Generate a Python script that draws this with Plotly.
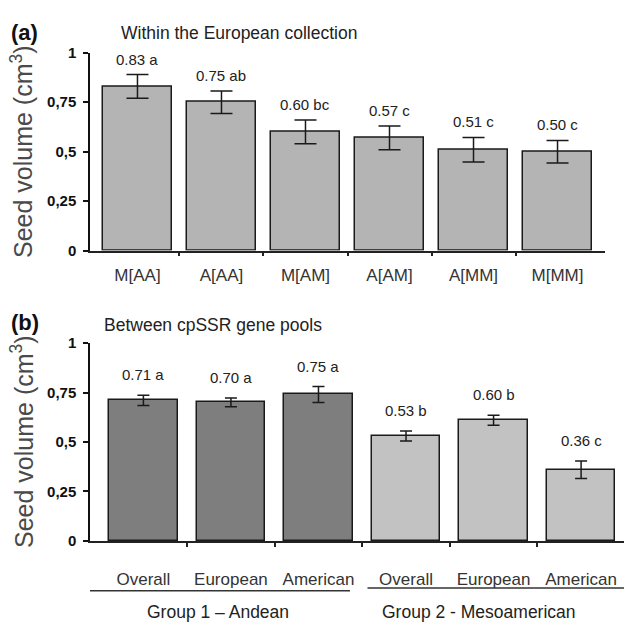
import plotly.graph_objects as go

# ---- data: panel (a) ----
a_cats = ["M[AA]", "A[AA]", "M[AM]", "A[AM]", "A[MM]", "M[MM]"]
a_vals = [0.83, 0.75, 0.60, 0.57, 0.51, 0.50]
a_err = [0.06, 0.057, 0.06, 0.06, 0.062, 0.057]
a_lbls = ["0.83 a", "0.75 ab", "0.60 bc", "0.57 c", "0.51 c", "0.50 c"]

# ---- data: panel (b) ----
b_cats = ["Overall", "European", "American", "Overall", "European", "American"]
b_groups = ["Andean", "Andean", "Andean", "Mesoamerican", "Mesoamerican", "Mesoamerican"]
b_vals = [0.71, 0.70, 0.74, 0.53, 0.61, 0.36]
b_err = [0.026, 0.022, 0.04, 0.025, 0.025, 0.044]
b_lbls = ["0.71 a", "0.70 a", "0.75 a", "0.53 b", "0.60 b", "0.36 c"]
group_titles = {"Andean": "Group 1 \u2013 Andean", "Mesoamerican": "Group 2 - Mesoamerican"}

yticks = [0, 0.25, 0.5, 0.75, 1]
yticktext = ["0", "0,25", "0,5", "0,75", "1"]

W, H = 624, 629
FONT = "Liberation Sans, Arial, sans-serif"
group_colors = {"Andean": "#7e7e7e", "Mesoamerican": "#c2c2c2"}

xa = list(range(len(a_cats)))
xb = list(range(len(b_cats)))

fig = go.Figure()
fig.add_trace(go.Bar(
    x=xa, y=a_vals, width=0.82, xaxis="x", yaxis="y",
    marker=dict(color="#b4b4b4", line=dict(color="#1a1a1a", width=1.5)),
    error_y=dict(type="data", array=a_err, color="#1a1a1a", thickness=1.5, width=11),
    showlegend=False, hoverinfo="skip"))
fig.add_trace(go.Bar(
    x=xb, y=b_vals, width=0.78, xaxis="x2", yaxis="y2",
    marker=dict(color=[group_colors[g] for g in b_groups], line=dict(color="#1a1a1a", width=1.5)),
    error_y=dict(type="data", array=b_err, color="#1a1a1a", thickness=1.5, width=6),
    showlegend=False, hoverinfo="skip"))

ann = []
for i, (v, e, t) in enumerate(zip(a_vals, a_err, a_lbls)):
    ann.append(dict(x=i, y=v + e, xref="x", yref="y", text=t, showarrow=False,
                    yanchor="bottom", yshift=5, font=dict(size=15, color="#222", family=FONT)))
for i, (v, e, t) in enumerate(zip(b_vals, b_err, b_lbls)):
    ann.append(dict(x=i, y=v + e, xref="x2", yref="y2", text=t, showarrow=False,
                    yanchor="bottom", yshift=10, font=dict(size=15, color="#222", family=FONT)))

ann += [
    dict(x=9 / W, y=1 - 24 / H, xref="paper", yref="paper", text="<b>(a)</b>", showarrow=False,
         xanchor="left", yanchor="middle", font=dict(size=22, color="#111", family=FONT)),
    dict(x=119 / W, y=1 - 25 / H, xref="paper", yref="paper", text="Within the European collection",
         showarrow=False, xanchor="left", yanchor="middle", font=dict(size=17.5, color="#222", family=FONT)),
    dict(x=9 / W, y=1 - 322 / H, xref="paper", yref="paper", text="<b>(b)</b>", showarrow=False,
         xanchor="left", yanchor="middle", font=dict(size=22, color="#111", family=FONT)),
    dict(x=102 / W, y=1 - 325 / H, xref="paper", yref="paper", text="Between cpSSR gene pools",
         showarrow=False, xanchor="left", yanchor="middle", font=dict(size=17.5, color="#222", family=FONT)),
]
for yc in [1 - 147 / H, 1 - 445 / H]:
    ann.append(dict(x=22 / W, y=yc, xref="paper", yref="paper", text="Seed volume (cm<sup>3</sup>)",
                    textangle=-90, showarrow=False, xanchor="center", yanchor="middle",
                    font=dict(size=25, color="#4a4a4a", family=FONT)))

ann.append(dict(x=0.85, y=1 - 620 / H, xref="x2", yref="paper", text=group_titles["Andean"],
                showarrow=False, yanchor="middle", font=dict(size=17.5, color="#222", family=FONT)))
ann.append(dict(x=3.83, y=1 - 620 / H, xref="x2", yref="paper", text=group_titles["Mesoamerican"],
                showarrow=False, yanchor="middle", font=dict(size=17.5, color="#222", family=FONT)))
shapes = [
    dict(type="line", xref="x2", yref="paper", x0=-0.61, x1=2.36, y0=1 - 598 / H, y1=1 - 598 / H,
         line=dict(color="#333", width=1.5)),
    dict(type="line", xref="x2", yref="paper", x0=2.56, x1=5.49, y0=1 - 595 / H, y1=1 - 595 / H,
         line=dict(color="#333", width=1.5)),
]

yax = dict(range=[0, 1], tickvals=yticks, ticktext=yticktext, ticks="outside", ticklen=5,
           tickcolor="#111", tickwidth=1.5, showline=True, linecolor="#111", linewidth=1.5,
           showgrid=False, zeroline=False, fixedrange=True, ticklabelstandoff=4,
           tickfont=dict(size=15, color="#111", family=FONT, weight="bold"))

def xax(cats, rng, standoff):
    n = len(cats)
    return dict(range=rng, tickvals=list(range(n)), ticktext=cats, ticks="",
                showline=True, linecolor="#222", linewidth=1.5, showgrid=False, zeroline=False,
                ticklabelstandoff=standoff, fixedrange=True,
                minor=dict(tickvals=[i - 0.5 for i in range(1, n)], ticks="outside", ticklen=4,
                           tickcolor="#222", tickwidth=1.5, showgrid=False),
                tickfont=dict(size=17, color="#333", family=FONT))

fig.update_layout(
    width=W, height=H, margin=dict(l=0, r=0, t=0, b=0),
    paper_bgcolor="white", plot_bgcolor="white", bargap=0,
    xaxis=dict(domain=[90 / W, 605 / W], anchor="y", **xax(a_cats, [-0.565, 5.565], 8)),
    yaxis=dict(domain=[1 - 248.3 / H, 1 - 45 / H], anchor="x", **yax),
    xaxis2=dict(domain=[90 / W, 1.0], anchor="y2", **xax(b_cats, [-0.61, 5.49], 22)),
    yaxis2=dict(domain=[1 - 546.7 / H, 1 - 343.3 / H], anchor="x2", **yax),
    annotations=ann, shapes=shapes,
)

fig.write_html("out.html", config={"displayModeBar": False},
               post_script="document.body.style.margin='0';document.body.style.overflow='hidden';")
